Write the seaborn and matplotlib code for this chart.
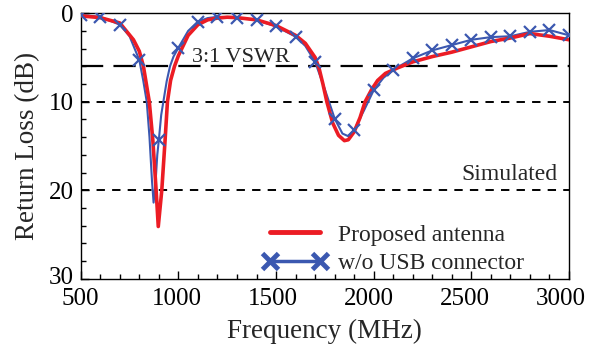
import matplotlib
matplotlib.use("Agg")
import matplotlib.pyplot as plt
from matplotlib.lines import Line2D
from matplotlib.ticker import MultipleLocator
from matplotlib.transforms import ScaledTranslation
import seaborn as sns

# ---- data ----
red_freq = [500, 600, 700, 770, 800, 821, 851, 869, 886, 897, 915, 932, 944, 960, 980,
            1000, 1050, 1100, 1150, 1200, 1250, 1300, 1400, 1500, 1600, 1650, 1700, 1720,
            1740, 1760, 1790, 1820, 1850, 1870, 1900, 1930, 1956, 1990, 2020, 2060, 2120,
            2200, 2300, 2400, 2500, 2600, 2700, 2800, 2900, 3000]
red_db = [0.3, 0.5, 1.1, 3.0, 4.3, 6.0, 10.0, 14.3, 20.0, 24.1, 20.0, 14.3, 10.0, 7.6, 6.0,
          4.8, 2.5, 1.3, 0.75, 0.55, 0.45, 0.5, 0.75, 1.4, 2.5, 3.4, 5.0, 6.2,
          8.0, 10.0, 12.4, 13.8, 14.4, 14.3, 13.4, 11.8, 10.0, 8.6, 7.6, 6.8, 6.2,
          5.5, 4.9, 4.4, 3.8, 3.2, 2.8, 2.3, 2.6, 3.0]

blue_freq = [500, 600, 700, 750, 800, 820, 838, 852, 865, 873, 882, 892, 900, 912, 923,
             940, 957, 975, 1000, 1050, 1100, 1150, 1200, 1300, 1400, 1500, 1600, 1650,
             1700, 1750, 1800, 1840, 1870, 1900, 1950, 2000, 2050, 2100, 2200, 2300, 2400,
             2500, 2600, 2700, 2800, 2900, 3000]
blue_db = [0.2, 0.4, 1.3, 2.6, 5.3, 7.6, 10.0, 14.0, 19.0, 21.4, 19.5, 16.0, 14.3, 11.5, 10.0,
           7.7, 6.0, 4.9, 3.9, 2.0, 0.95, 0.55, 0.4, 0.5, 0.77, 1.5, 2.65, 3.7,
           5.5, 8.6, 11.9, 13.6, 13.9, 13.2, 11.0, 8.7, 7.3, 6.4, 5.1, 4.2, 3.6,
           3.0, 2.7, 2.6, 2.1, 1.9, 2.5]
blue_marker_step = 100  # markers drawn every 100 MHz

x_ticks = [500, 1000, 1500, 2000, 2500, 3000]
y_ticks = [0, 10, 20, 30]
vswr_level = 6
ref_levels = [10, 20]
series_labels = ["Proposed antenna", "w/o USB connector"]

RED = "#ec1c24"
BLUE = "#3b58b0"

sns.set_style("ticks")
plt.rcParams["font.family"] = ["Liberation Serif", "DejaVu Serif"]

fig = plt.figure(figsize=(5.91, 3.46), dpi=100)
ax = fig.add_axes([0.1366, 0.1945, 0.8262, 0.7673])

ax.axhline(vswr_level, color="black", lw=1.6, dashes=(10.0, 4.6), zorder=1)
for lv in ref_levels:
    ax.axhline(lv, color="black", lw=1.4, dashes=(4.3, 3.7), zorder=1)

sns.lineplot(x=blue_freq, y=blue_db, color=BLUE, lw=1.5, sort=False, ax=ax, zorder=2)
sns.lineplot(x=red_freq, y=red_db, color=RED, lw=2.6, sort=False, ax=ax, zorder=3)
mf = [f for f in blue_freq if f % blue_marker_step == 0]
md = [d for f, d in zip(blue_freq, blue_db) if f % blue_marker_step == 0]
sns.lineplot(x=mf, y=md, color=BLUE, linestyle="", marker="x", ms=8.5, mew=1.6,
             markeredgecolor=BLUE, sort=False, ax=ax, zorder=4)

ax.set_xlim(500, 3000)
ax.set_ylim(30, 0)
ax.set_xticks(x_ticks)
ax.set_yticks(y_ticks)
ax.xaxis.set_minor_locator(MultipleLocator(100))
ax.yaxis.set_minor_locator(MultipleLocator(2))
ax.tick_params(which="both", direction="in", top=False, right=False, labelsize=18,
               colors="black", width=1)
ax.tick_params(which="major", length=6)
ax.tick_params(axis="x", which="major", pad=7)
ax.tick_params(axis="y", which="major", pad=5)
ax.tick_params(which="minor", length=3.5)
for s in ax.spines.values():
    s.set_color("black")
    s.set_linewidth(1.0)

# x tick labels sit slightly left of their ticks in the reference
fig.canvas.draw()
for i, lab in enumerate(ax.get_xticklabels()):
    lab.set_transform(lab.get_transform() +
                      ScaledTranslation(-0.017 * i, 0, fig.dpi_scale_trans))
ylabs = ax.get_yticklabels()
ylabs[-1].set_transform(ylabs[-1].get_transform() +
                        ScaledTranslation(0, 0.03, fig.dpi_scale_trans))

ax.set_xlabel("Frequency (MHz)", fontsize=19.5, labelpad=6)
ax.set_ylabel("Return Loss (dB)", fontsize=19.5, labelpad=6)

ax.text(1069, 5.5, "3:1 VSWR", fontsize=16, ha="left", va="baseline")
ax.text(2939, 18.9, "Simulated", fontsize=17, ha="right", va="baseline")

handles = [Line2D([], [], color=RED, lw=3.5),
           Line2D([], [], color=BLUE, lw=2.5, marker="x", ms=12, mew=3.5)]
ax.legend(handles, series_labels, loc="lower left", bbox_to_anchor=(0.34, -0.045),
          frameon=False, numpoints=2, fontsize=17, handlelength=2.7,
          handletextpad=0.45, labelspacing=0.3, borderpad=0.2)

fig.savefig("out.png", dpi=100)
